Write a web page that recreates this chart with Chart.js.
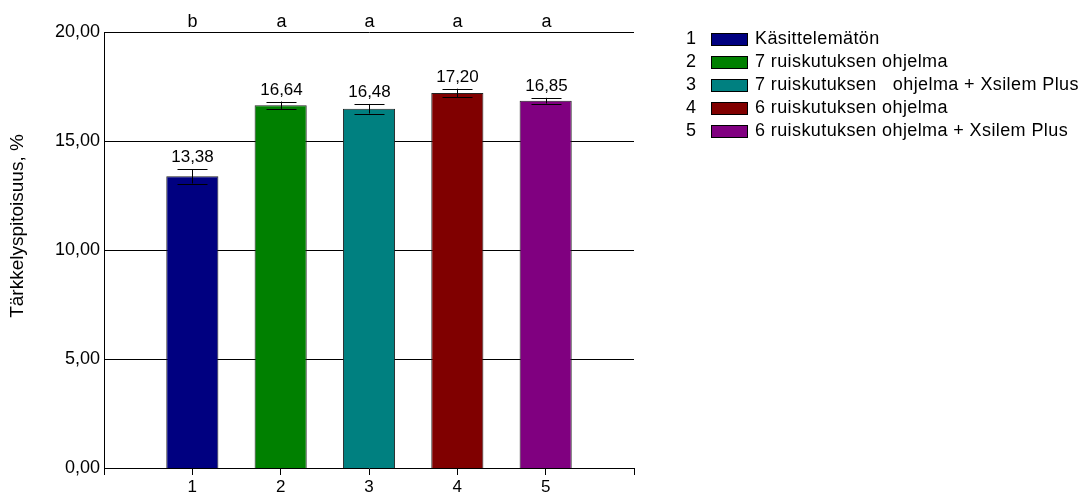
<!DOCTYPE html>
<html>
<head>
<meta charset="utf-8">
<script src="https://cdn.jsdelivr.net/npm/chart.js@4"></script>
<style>
  html, body { margin: 0; padding: 0; background: #fff; }
  #wrap { width: 1082px; height: 497px; position: relative; }
</style>
</head>
<body>
<div id="wrap"><canvas id="myChart"></canvas></div>
<script>
// Data for the chart
var categories = ["1", "2", "3", "4", "5"];
var values = [13.38, 16.64, 16.48, 17.20, 16.85];
var errors = [0.33, 0.17, 0.22, 0.20, 0.13];
var letters = ["b", "a", "a", "a", "a"];
var treatments = [
  "Käsittelemätön",
  "7 ruiskutuksen ohjelma",
  "7 ruiskutuksen   ohjelma + Xsilem Plus",
  "6 ruiskutuksen ohjelma",
  "6 ruiskutuksen ohjelma + Xsilem Plus"
];
var colors = ["#000080", "#008000", "#008080", "#800000", "#800080"];
var yTicks = [0, 5, 10, 15, 20];
var yTitle = "Tärkkelyspitoisuus, %";

var FONT = "'Liberation Sans', Arial, sans-serif";

function fmt(v) { return v.toFixed(2).replace(".", ","); }

// one empty slot on each side, like the original axis
var labels = [""].concat(categories, [""]);
var padded = [null].concat(values, [null]);
var paddedColors = ["#fff"].concat(colors, ["#fff"]);

// error bars, value labels, letters, axis title and the legend
var extras = {
  id: "extras",
  afterDatasetsDraw: function (chart) {
    var ctx = chart.ctx;
    var x = chart.scales.x, y = chart.scales.y;
    ctx.save();
    ctx.strokeStyle = "#000";
    ctx.lineWidth = 1;
    ctx.fillStyle = "#000";
    ctx.textAlign = "center";
    for (var i = 0; i < values.length; i++) {
      var px = Math.round(x.getPixelForValue(i + 1)) + 0.5;
      var top = y.getPixelForValue(values[i] + errors[i]);
      var bot = y.getPixelForValue(values[i] - errors[i]);
      ctx.beginPath();
      ctx.moveTo(px, top); ctx.lineTo(px, bot);
      ctx.moveTo(px - 15, Math.round(top) + 0.5); ctx.lineTo(px + 15, Math.round(top) + 0.5);
      ctx.moveTo(px - 15, Math.round(bot) + 0.5); ctx.lineTo(px + 15, Math.round(bot) + 0.5);
      ctx.stroke();

      ctx.font = "17px " + FONT;
      ctx.textBaseline = "bottom";
      ctx.fillText(fmt(values[i]), px, top - 3);

      ctx.font = "18px " + FONT;
      ctx.textBaseline = "middle";
      ctx.fillText(letters[i], px, 22);
    }

    // y axis title
    ctx.save();
    ctx.translate(18, 226);
    ctx.rotate(-Math.PI / 2);
    ctx.font = "19px " + FONT;
    ctx.textAlign = "center";
    ctx.textBaseline = "middle";
    ctx.fillText(yTitle, 0, 0);
    ctx.restore();

    // legend
    ctx.font = "18px " + FONT;
    ctx.textBaseline = "middle";
    for (var j = 0; j < treatments.length; j++) {
      var cy = 39 + j * 23;
      ctx.textAlign = "center";
      ctx.fillStyle = "#000";
      ctx.fillText(categories[j], 691, cy);
      ctx.fillStyle = colors[j];
      ctx.fillRect(711, cy - 6, 36, 12);
      ctx.strokeStyle = "#000";
      ctx.strokeRect(711.5, Math.round(cy - 6) + 0.5, 36, 12);
      ctx.textAlign = "left";
      ctx.fillStyle = "#000";
      ctx.letterSpacing = "0.4px";
      ctx.fillText(treatments[j], 755, cy);
      ctx.letterSpacing = "0px";
    }
    ctx.restore();
  }
};

var config = {
  type: "bar",
  data: {
    labels: labels,
    datasets: [{
      data: padded,
      backgroundColor: paddedColors,
      borderColor: "#222",
      borderWidth: 1,
      categoryPercentage: 1,
      barPercentage: 0.59
    }]
  },
  options: {
    responsive: true,
    maintainAspectRatio: false,
    animation: false,
    layout: { padding: { top: 32, right: 448, bottom: 0, left: 0 } },
    plugins: {
      legend: { display: false },
      tooltip: { enabled: false }
    },
    scales: {
      x: {
        offset: false,
        grid: { offset: false, drawOnChartArea: false, drawTicks: true, tickLength: 7, color: "#000" },
        border: { color: "#000", width: 1 },
        ticks: { color: "#000", font: { family: FONT, size: 17 }, padding: 2, autoSkip: false, maxRotation: 0 },
        afterFit: function (s) { s.height = 29; }
      },
      y: {
        min: 0,
        max: 20,
        afterBuildTicks: function (s) { s.ticks = yTicks.map(function (v) { return { value: v }; }); },
        grid: { color: "#000", drawTicks: false, lineWidth: function (c) { return c.tick.value === 0 ? 0 : 1; } },
        border: { color: "#000", width: 1 },
        ticks: {
          color: "#000",
          font: { family: FONT, size: 18 },
          padding: 4,
          callback: function (v) { return fmt(v); }
        },
        afterFit: function (s) { s.width = 104; }
      }
    }
  },
  plugins: [extras]
};

var ctx = document.getElementById("myChart").getContext("2d");
var myChart = new Chart(ctx, config);
</script>
</body>
</html>
